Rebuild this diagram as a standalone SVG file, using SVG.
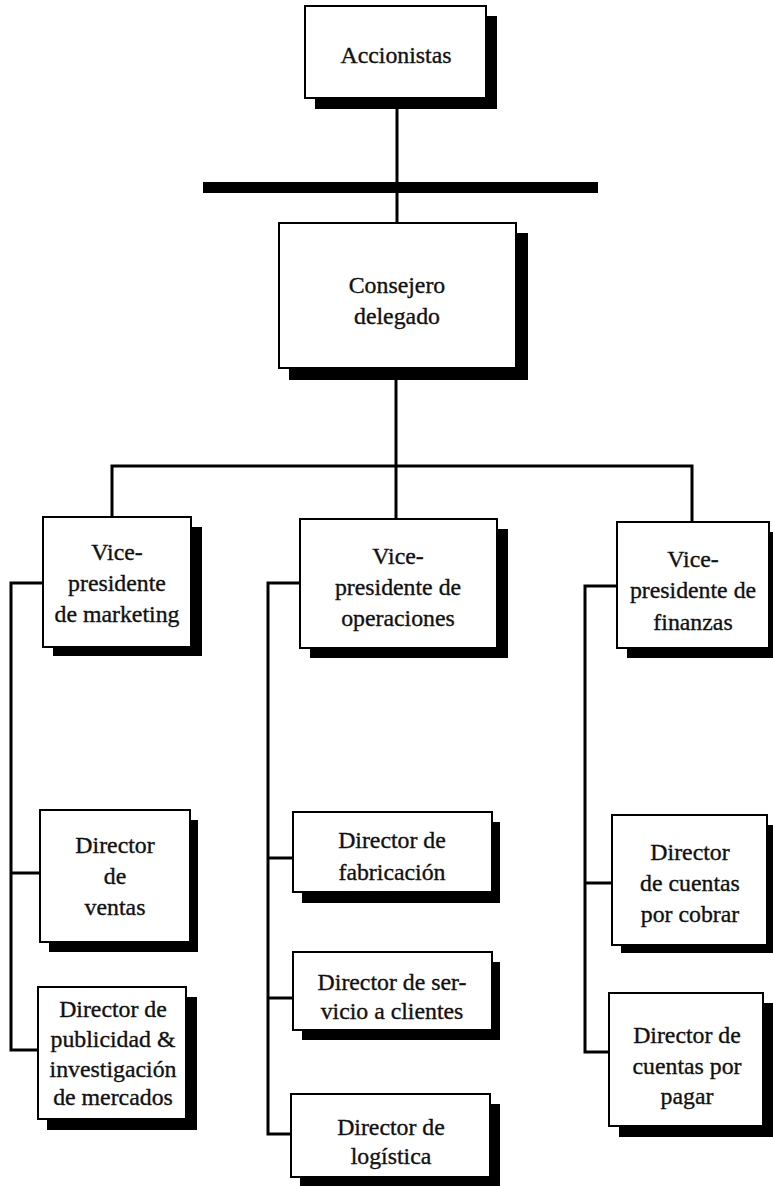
<svg xmlns="http://www.w3.org/2000/svg" width="773" height="1186" viewBox="0 0 773 1186">
<style>
.sh{fill:#000}
.bx{fill:#fff;stroke:#000;stroke-width:2}
.t{font-family:"Liberation Serif","Times New Roman",serif;font-size:23.8px;fill:#111;stroke:#111;stroke-width:0.35;text-anchor:middle}
.c{fill:none;stroke:#000;stroke-width:3}
</style>
<rect width="773" height="1186" fill="#fff"/>
<g id="connectors">
<line class="c" x1="397" y1="98" x2="397" y2="223"/>
<rect x="203" y="182" width="395" height="11" fill="#000"/>
<line class="c" x1="396" y1="368" x2="396" y2="519"/>
<path class="c" d="M112,517 V466 H692 V522"/>
<path class="c" d="M44,583 H11 V1050 H38 M11,873 H40"/>
<path class="c" d="M300,583 H268 V1134 H291 M268,858 H293 M268,998 H293"/>
<path class="c" d="M617,586 H585 V1052 H609 M585,883 H612"/>
</g>
<g id="accionistas">
<rect class="sh" x="315" y="16" width="182" height="93"/>
<rect class="bx" x="305" y="6" width="181" height="92"/>
<text class="t" x="396" y="63">Accionistas</text>
</g>
<g id="consejero">
<rect class="sh" x="289" y="233" width="239" height="147"/>
<rect class="bx" x="279" y="223" width="237" height="145"/>
<text class="t" x="397" y="293">Consejero</text>
<text class="t" x="397" y="324">delegado</text>
</g>
<g id="vp-marketing">
<rect class="sh" x="53" y="527" width="149" height="129"/>
<rect class="bx" x="43" y="517" width="148" height="130"/>
<text class="t" x="117" y="560">Vice-</text>
<text class="t" x="117" y="591">presidente</text>
<text class="t" x="117" y="622">de marketing</text>
</g>
<g id="vp-operaciones">
<rect class="sh" x="310" y="529" width="198" height="129"/>
<rect class="bx" x="300" y="519" width="197" height="129"/>
<text class="t" x="398" y="564">Vice-</text>
<text class="t" x="398" y="595">presidente de</text>
<text class="t" x="398" y="626">operaciones</text>
</g>
<g id="vp-finanzas">
<rect class="sh" x="627" y="532" width="146" height="126"/>
<rect class="bx" x="617" y="522" width="152" height="126"/>
<text class="t" x="693" y="567">Vice-</text>
<text class="t" x="693" y="598">presidente de</text>
<text class="t" x="693" y="630">finanzas</text>
</g>
<g id="dir-ventas">
<rect class="sh" x="49" y="820" width="149" height="132"/>
<rect class="bx" x="40" y="810" width="150" height="132"/>
<text class="t" x="115" y="853">Director</text>
<text class="t" x="115" y="884">de</text>
<text class="t" x="115" y="915">ventas</text>
</g>
<g id="dir-publicidad">
<rect class="sh" x="47" y="997" width="150" height="133"/>
<rect class="bx" x="38" y="987" width="148" height="132"/>
<text class="t" x="113" y="1017">Director de</text>
<text class="t" x="113" y="1047">publicidad &amp;</text>
<text class="t" x="113" y="1077">investigación</text>
<text class="t" x="113" y="1105">de mercados</text>
</g>
<g id="dir-fabricacion">
<rect class="sh" x="302" y="822" width="198" height="81"/>
<rect class="bx" x="293" y="812" width="199" height="80"/>
<text class="t" x="392" y="848">Director de</text>
<text class="t" x="392" y="880">fabricación</text>
</g>
<g id="dir-servicio">
<rect class="sh" x="302" y="962" width="198" height="78"/>
<rect class="bx" x="293" y="952" width="199" height="78"/>
<text class="t" x="392" y="990">Director de ser-</text>
<text class="t" x="392" y="1019">vicio a clientes</text>
</g>
<g id="dir-logistica">
<rect class="sh" x="300" y="1104" width="200" height="84"/>
<rect class="bx" x="291" y="1094" width="199" height="83"/>
<text class="t" x="391" y="1135">Director de</text>
<text class="t" x="391" y="1164">logística</text>
</g>
<g id="dir-cobrar">
<rect class="sh" x="621" y="825" width="152" height="128"/>
<rect class="bx" x="612" y="815" width="155" height="130"/>
<text class="t" x="690" y="860">Director</text>
<text class="t" x="690" y="891">de cuentas</text>
<text class="t" x="690" y="922">por cobrar</text>
</g>
<g id="dir-pagar">
<rect class="sh" x="619" y="1003" width="154" height="134"/>
<rect class="bx" x="609" y="993" width="154" height="133"/>
<text class="t" x="687" y="1043">Director de</text>
<text class="t" x="687" y="1074">cuentas por</text>
<text class="t" x="687" y="1104">pagar</text>
</g>
</svg>
